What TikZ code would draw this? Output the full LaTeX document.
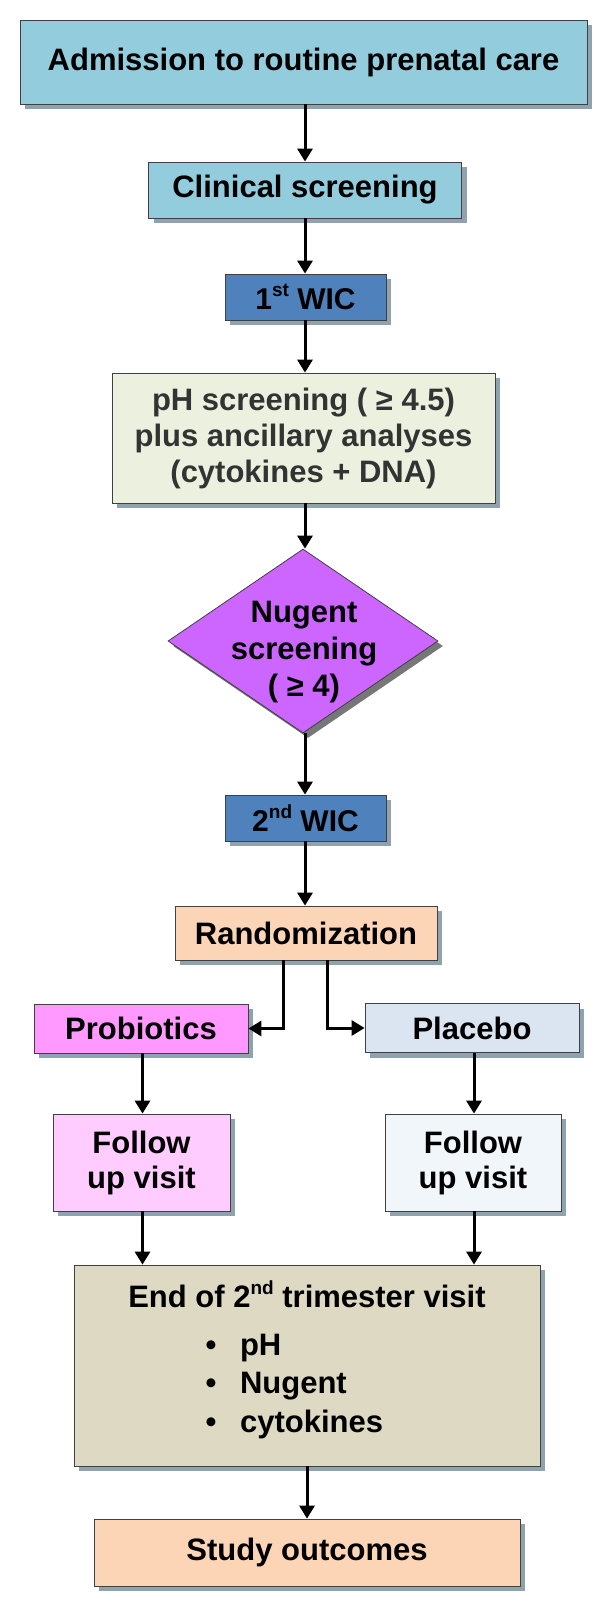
\documentclass[tikz,border=0pt]{standalone}
\usepackage{fontspec}
\setmainfont{Liberation Sans}
\usetikzlibrary{shapes.geometric,arrows.meta,shadows}
\definecolor{aquac}{HTML}{93CDDD}
\definecolor{wicc}{HTML}{4F81BD}
\definecolor{phc}{HTML}{EBF1DE}
\definecolor{nugc}{HTML}{CC66FF}
\definecolor{peachc}{HTML}{FBD5B5}
\definecolor{probc}{HTML}{FF99FF}
\definecolor{placc}{HTML}{DBE5F1}
\definecolor{fol1c}{HTML}{FFCCFF}
\definecolor{fol2c}{HTML}{F1F6FA}
\definecolor{endc}{HTML}{DDD9C3}
\definecolor{bordc}{HTML}{404040}
\definecolor{shadc}{HTML}{8EA3AE}
\definecolor{dshadc}{HTML}{777777}
\definecolor{greytext}{HTML}{333333}
\newcommand\supx[1]{\raisebox{0.42em}{\fontsize{19}{19}\selectfont #1}}
\begin{document}
\begin{tikzpicture}[x=1pt,y=-1pt,
  box/.style={draw=bordc, line width=0.8pt, inner sep=0pt, align=center,
    font=\fontsize{31}{35}\bfseries\selectfont,
    drop shadow={shadow xshift=5pt, shadow yshift=-5pt, fill=shadc, opacity=1}},
  txt/.style={inner sep=0pt, align=center, font=\fontsize{31}{35}\bfseries\selectfont},
  arr/.style={line width=3pt, -{Triangle[length=13pt,width=15pt]}},
]
\useasboundingbox (0,0) rectangle (600,1603);

\coordinate (col) at (305,0);
\coordinate (bcol) at (307,0);
\coordinate (lcol) at (142.5,0);
\coordinate (rcol) at (474,0);
\coordinate (rl) at (283,0);
\coordinate (rr) at (327,0);

\node[box, fill=aquac, minimum width=567pt, minimum height=84pt] (adm) at (303.5,62) {Admission to routine prenatal care};
\node[box, fill=aquac, minimum width=313pt, minimum height=56pt] (clin) at (305,190) {Clinical screening};
\node[box, fill=wicc, minimum width=161pt, minimum height=46pt, font=\fontsize{30}{34}\bfseries\selectfont] (wic1) at (305.5,297) {1\supx{st} WIC};
\node[box, fill=phc, text=greytext, minimum width=383pt, minimum height=130pt, font=\fontsize{31}{36}\bfseries\selectfont] (ph) at (303.5,438) {pH screening ( ≥ 4.5)\\plus ancillary analyses\\(cytokines + DNA)};
\node[diamond, draw=bordc, line width=0.8pt, fill=nugc, inner sep=0pt, minimum width=270pt, minimum height=184pt,
  drop shadow={shadow xshift=5pt, shadow yshift=-5pt, fill=dshadc, opacity=1}] (nug) at (303,641) {};
\node[txt, font=\fontsize{31}{37}\bfseries\selectfont] (nugt) at (304,652) {Nugent\\screening\\( ≥ 4)};
\node[box, fill=wicc, minimum width=161pt, minimum height=46pt, font=\fontsize{30}{34}\bfseries\selectfont] (wic2) at (305.5,818) {2\supx{nd} WIC};
\node[box, fill=peachc, minimum width=262pt, minimum height=54pt] (rand) at (306,933) {Randomization};
\node[box, fill=probc, minimum width=214pt, minimum height=49pt] (prob) at (141,1028.5) {Probiotics};
\node[box, fill=placc, minimum width=214pt, minimum height=49pt] (plac) at (472,1028) {Placebo};
\node[box, fill=fol1c, minimum width=177pt, minimum height=97pt] (fol1) at (141.5,1162.5) {Follow\\up visit};
\node[box, fill=fol2c, minimum width=176pt, minimum height=97pt] (fol2) at (473,1162.5) {Follow\\up visit};
\node[box, fill=endc, minimum width=466pt, minimum height=201pt] (endb) at (307,1365.5) {};
\node[txt] (endt) at (307,1294) {End of 2\supx{nd} trimester visit};
\node[txt, anchor=west, align=left, font=\fontsize{31}{38.5}\bfseries\selectfont] (endl) at (205.5,1386)
  {\begin{tabular}{@{}l@{\hspace{23.5pt}}l@{}}•&pH\\•&Nugent\\•&cytokines\end{tabular}};
\node[box, fill=peachc, minimum width=426pt, minimum height=67pt] (out) at (307,1552.5) {Study outcomes};

\draw[arr] (adm.south -| col) -- (clin.north -| col);
\draw[arr] (clin.south -| col) -- (wic1.north -| col);
\draw[arr] (wic1.south -| col) -- (ph.north -| col);
\draw[arr] (ph.south -| col) -- (nug.north -| col);
\draw[arr] (nug.south -| col) -- (wic2.north -| col);
\draw[arr] (wic2.south -| col) -- (rand.north -| col);
\draw[arr] (rand.south -| rl) |- (prob.east);
\draw[arr] (rand.south -| rr) |- (plac.west);
\draw[arr] (prob.south -| lcol) -- (fol1.north -| lcol);
\draw[arr] (plac.south -| rcol) -- (fol2.north -| rcol);
\draw[arr] (fol1.south -| lcol) -- (endb.north -| lcol);
\draw[arr] (fol2.south -| rcol) -- (endb.north -| rcol);
\draw[arr] (endb.south -| bcol) -- (out.north -| bcol);
\end{tikzpicture}
\end{document}
